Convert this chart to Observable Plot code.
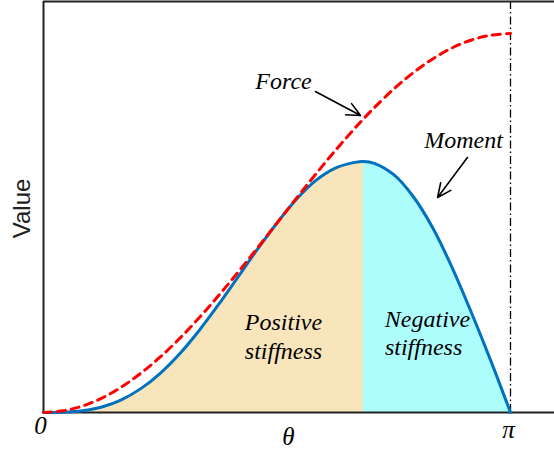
<!DOCTYPE html>
<html>
<head>
<meta charset="utf-8">
<script src="https://cdn.jsdelivr.net/npm/d3@7"></script>
<script src="https://cdn.jsdelivr.net/npm/@observablehq/plot@0.6"></script>
<style>
  html, body { margin: 0; padding: 0; background: white; }
  #chart svg { display: block; }
</style>
</head>
<body>
<div id="chart"></div>
<script>
// angle θ in degrees (0 … π = 180)
const theta = [0, 7.5, 15, 22.5, 30, 37.5, 45, 52.5, 60, 67.5, 75, 82.5, 90,
  97.5, 105, 112.5, 120, 123.3, 127.5, 135, 142.5, 150, 157.5, 165, 172.5, 180];
// Force (dashed red)
const force = [0, 0.009, 0.034, 0.076, 0.134, 0.207, 0.293, 0.391, 0.5, 0.617, 0.741, 0.869, 1.0,
  1.131, 1.259, 1.383, 1.5, 1.549, 1.609, 1.707, 1.793, 1.866, 1.924, 1.966, 1.991, 2.0];
// Moment (solid blue)
const moment = [0, 0.001, 0.009, 0.029, 0.067, 0.126, 0.207, 0.310, 0.433, 0.570, 0.716, 0.862, 1.0,
  1.125, 1.225, 1.290, 1.320, 1.325, 1.315, 1.255, 1.140, 0.975, 0.765, 0.525, 0.270, 0];
const splitTheta = 123.3; // stiffness changes sign at the moment's peak

// annotations (data units: degrees, value)
const labelText = ["Force", "Moment", "Positive", "stiffness", "Negative", "stiffness"];
const labelX = [92.5, 161.9, 92.5, 92.5, 148.0, 146.5];
const labelY = [1.705, 1.398, 0.438, 0.280, 0.449, 0.301];
const arrowX1 = [104.8, 163.4], arrowY1 = [1.694, 1.346];
const arrowX2 = [122.2, 151.9], arrowY2 = [1.567, 1.135];
const tickText = ["0", "θ", "π"];
const tickX = [-1.2, 94.4, 179.2];
const tickY = [-0.116, -0.174, -0.132];
const axisTitle = "Value";

const rows = theta.map((t, i) => ({theta: t, force: force[i], moment: moment[i]}));
const labels = labelText.map((t, i) => ({t, x: labelX[i], y: labelY[i]}));
const arrows = arrowX1.map((x, i) => ({x1: x, y1: arrowY1[i], x2: arrowX2[i], y2: arrowY2[i]}));
const ticks = tickText.map((t, i) => ({t, x: tickX[i], y: tickY[i]}));

const xMax = 196.96, yMax = 2.169;
const serif = "'Liberation Serif', 'Times New Roman', serif";

const chart = Plot.plot({
  width: 554,
  height: 452,
  marginLeft: 43,
  marginRight: 0,
  marginTop: 1,
  marginBottom: 40,
  x: {domain: [0, xMax], axis: null},
  y: {domain: [0, yMax], axis: null},
  style: {background: "white", overflow: "visible"},
  marks: [
    Plot.areaY(rows.filter(d => d.theta <= splitTheta), {x: "theta", y: "moment", fill: "#F9E5BC", curve: "catmull-rom"}),
    Plot.areaY(rows.filter(d => d.theta >= splitTheta), {x: "theta", y: "moment", fill: "#AEFDFD", curve: "catmull-rom"}),
    Plot.ruleX([180], {stroke: "black", strokeWidth: 1.3, strokeDasharray: "8,3,1.5,3"}),
    Plot.ruleY([0], {stroke: "#222", strokeWidth: 2}),
    Plot.ruleY([yMax], {stroke: "#222", strokeWidth: 2}),
    Plot.ruleX([0], {stroke: "#222", strokeWidth: 2}),
    Plot.line(rows, {x: "theta", y: "moment", stroke: "#0072BD", strokeWidth: 3, curve: "catmull-rom"}),
    Plot.line(rows, {x: "theta", y: "force", stroke: "#FF0000", strokeWidth: 3, strokeDasharray: "8,6", curve: "catmull-rom"}),
    Plot.arrow(arrows, {x1: "x1", y1: "y1", x2: "x2", y2: "y2", stroke: "black", strokeWidth: 1.6, headLength: 14, headAngle: 50}),
    Plot.text(labels, {x: "x", y: "y", text: "t", lineAnchor: "bottom", textAnchor: "middle", fontFamily: serif, fontStyle: "italic", fontSize: 24, fill: "black"}),
    Plot.text(ticks, {x: "x", y: "y", text: "t", lineAnchor: "bottom", textAnchor: "middle", fontFamily: serif, fontStyle: "italic", fontSize: 25, fill: "black"}),
    Plot.text([axisTitle], {x: [-8.1], y: [1.077], text: d => d, rotate: -90, textAnchor: "middle", lineAnchor: "middle", fontFamily: "'Liberation Sans', Arial, sans-serif", fontSize: 24, fill: "#222"})
  ]
});
document.getElementById("chart").appendChild(chart);
</script>
</body>
</html>
